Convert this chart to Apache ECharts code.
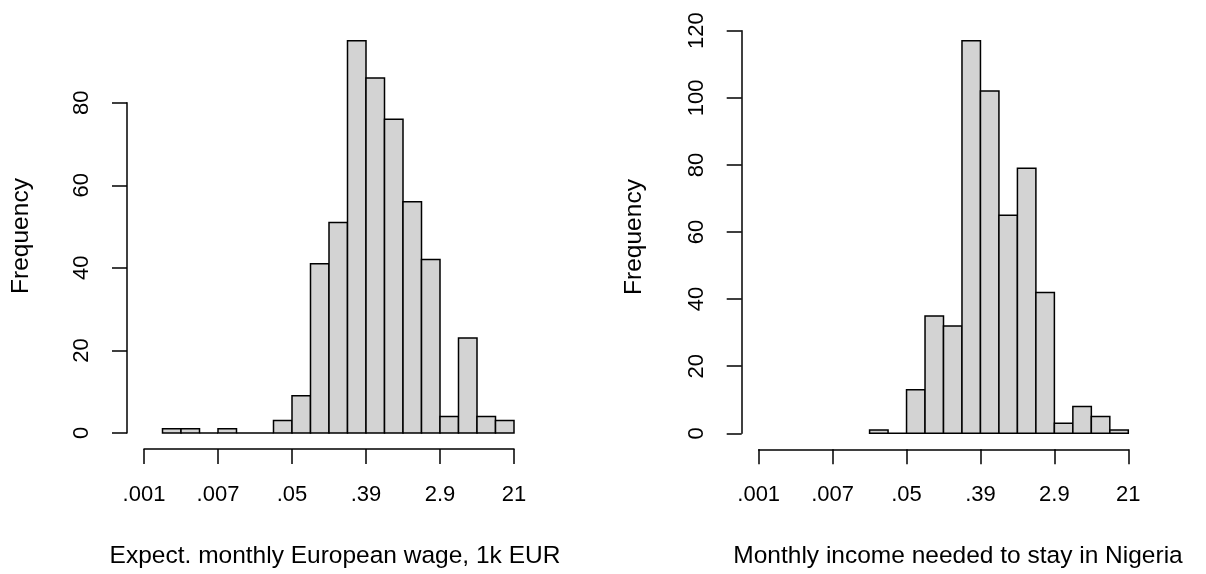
<!doctype html>
<html>
    <head>
        <meta charset="utf-8">
        <style>
            html, body { margin: 0; padding: 0; background: #fff; }
            #main { width: 1206px; height: 574px; }
        </style>
    </head>
    <body>
        <div id="main"></div>
        <script src="https://cdn.jsdelivr.net/npm/echarts@6/dist/echarts.min.js"></script>
        <script>
            // x axis is in bin units: 20 bins, a labelled tick every 4 bins (log scale)
            var tickLabels = ['.001', '.007', '.05', '.39', '2.9', '21'];
            var binsPerTick = 4;

            // expected monthly European wage
            var wageFirstBin = 1;
            var wageCounts = [1, 1, 0, 1, 0, 0, 3, 9, 41, 51, 95, 86, 76, 56, 42, 4, 23, 4, 3];

            // monthly income needed to stay in Nigeria
            var stayFirstBin = 6;
            var stayCounts = [1, 0, 13, 35, 32, 117, 102, 65, 79, 42, 3, 8, 5, 1];

            var wageTitle = 'Expect. monthly European wage, 1k EUR';
            var stayTitle = 'Monthly income needed to stay in Nigeria';
            var yTitle = 'Frequency';

            var font = '"Liberation Sans", Arial, Helvetica, sans-serif';
            var ink = '#000';

            function toBins(first, counts) {
                return counts.map(function (c, i) {
                    return [first + i, first + i + 1, c];
                });
            }

            function renderBar(params, api) {
                var p0 = api.coord([api.value(0), 0]);
                var p1 = api.coord([api.value(1), api.value(2)]);
                return {
                    type: 'rect',
                    shape: {
                        x: p0[0],
                        y: p1[1],
                        width: p1[0] - p0[0],
                        height: p0[1] - p1[1]
                    },
                    style: { fill: '#d3d3d3', stroke: ink, lineWidth: 1.5 }
                };
            }

            function xAxis(idx) {
                return {
                    type: 'value',
                    gridIndex: idx,
                    min: 0,
                    max: tickLabels.length * binsPerTick - binsPerTick,
                    interval: binsPerTick,
                    offset: 16,
                    splitLine: { show: false },
                    axisLine: { show: true, onZero: false, lineStyle: { color: ink, width: 1.5 } },
                    axisTick: { show: true, length: 15, lineStyle: { color: ink, width: 1.5 } },
                    axisLabel: {
                        color: ink,
                        fontFamily: font,
                        fontSize: 22,
                        margin: 35,
                        formatter: function (v) { return tickLabels[v / binsPerTick]; }
                    }
                };
            }

            function yAxis(idx, max) {
                return {
                    type: 'value',
                    gridIndex: idx,
                    min: 0,
                    max: max,
                    interval: 20,
                    offset: 17,
                    splitLine: { show: false },
                    axisLine: { show: true, onZero: false, lineStyle: { color: ink, width: 1.5 } },
                    axisTick: { show: true, length: 15, lineStyle: { color: ink, width: 1.5 } },
                    axisLabel: {
                        color: ink,
                        fontFamily: font,
                        fontSize: 22,
                        rotate: 90,
                        margin: 34
                    }
                };
            }

            function label(text, x, y, rot) {
                return {
                    type: 'text',
                    x: x,
                    y: y,
                    rotation: rot || 0,
                    style: {
                        text: text,
                        fill: ink,
                        font: '24.5px ' + font,
                        align: 'center',
                        verticalAlign: 'middle'
                    }
                };
            }

            var chart = echarts.init(document.getElementById('main'));

            chart.setOption({
                animation: false,
                backgroundColor: '#fff',
                grid: [
                    { left: 144, top: 102.7, width: 370, height: 330.3, outerBoundsMode: 'none' },
                    { left: 758.7, top: 30.7, width: 369.6, height: 402.6, outerBoundsMode: 'none' }
                ],
                xAxis: [xAxis(0), xAxis(1)],
                yAxis: [yAxis(0, 80), yAxis(1, 120)],
                series: [
                    {
                        type: 'custom',
                        xAxisIndex: 0,
                        yAxisIndex: 0,
                        clip: false,
                        renderItem: renderBar,
                        data: toBins(wageFirstBin, wageCounts)
                    },
                    {
                        type: 'custom',
                        xAxisIndex: 1,
                        yAxisIndex: 1,
                        clip: false,
                        renderItem: renderBar,
                        data: toBins(stayFirstBin, stayCounts)
                    }
                ],
                graphic: [
                    label(wageTitle, 335, 556),
                    label(stayTitle, 958, 556),
                    label(yTitle, 21, 236, Math.PI / 2),
                    label(yTitle, 634, 237, Math.PI / 2)
                ]
            });

            window.onresize = chart.resize;
        </script>
    </body>
</html>
